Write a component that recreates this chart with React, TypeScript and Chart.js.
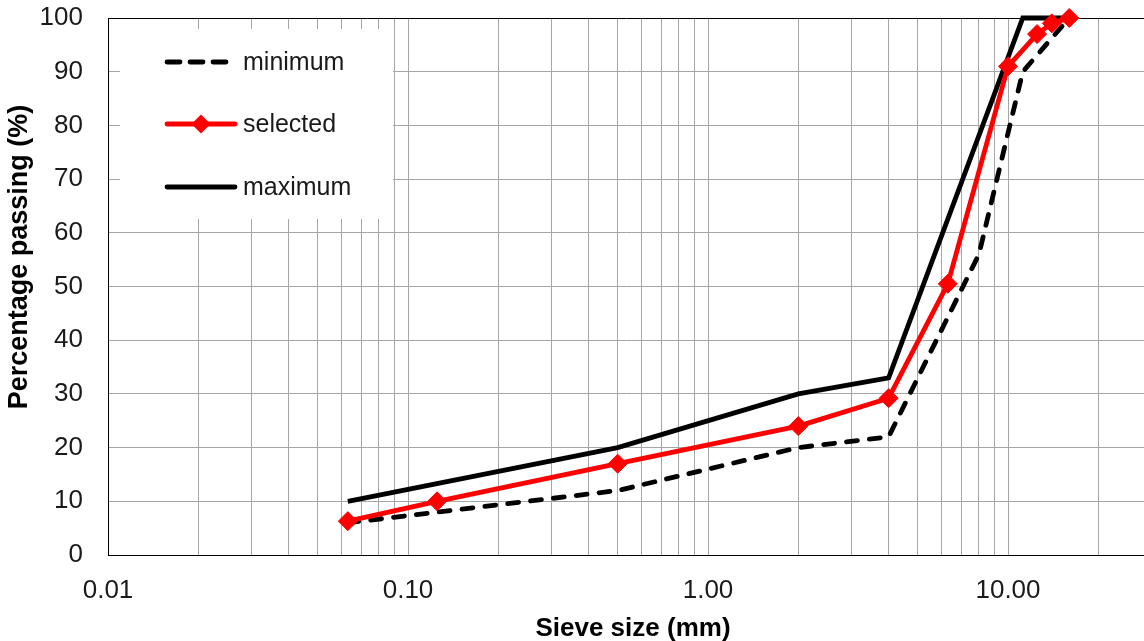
import React, { useEffect, useRef } from "react";
import { Chart, registerables } from "chart.js";

Chart.register(...registerables);

// ---- data ----
const SIEVE_MIN = [0.063, 0.5, 2, 4, 8, 11.2, 16];
const PASS_MIN = [6, 12, 20, 22, 56, 90, 100];

const SIEVE_SEL = [0.063, 0.125, 0.5, 2, 4, 6.3, 10, 12.5, 14, 16];
const PASS_SEL = [6.3, 10, 17, 24, 29.2, 50.5, 91, 97, 99, 100];

const SIEVE_MAX = [0.063, 0.5, 2, 4, 11.2, 16];
const PASS_MAX = [10, 20, 30, 33, 100, 100];

const X_GRID = [
  0.01, 0.02, 0.03, 0.04, 0.05, 0.06, 0.07, 0.08, 0.09,
  0.1, 0.2, 0.3, 0.4, 0.5, 0.6, 0.7, 0.8, 0.9,
  1, 2, 3, 4, 5, 6, 7, 8, 9,
  10, 20,
];
const X_LABEL_VALUES = [0.01, 0.1, 1, 10];
const X_LABEL_TEXT = ["0.01", "0.10", "1.00", "10.00"];
const Y_TICKS = [0, 10, 20, 30, 40, 50, 60, 70, 80, 90, 100];

const X_TITLE = "Sieve size (mm)";
const Y_TITLE = "Percentage passing (%)";

const X_MIN = 0.01;
const X_MAX = 28.4;

const FONT = '"Liberation Sans", Arial, sans-serif';

const legendPlugin = {
  id: "boxLegend",
  beforeDatasetsDraw(chart: any) {
    const ctx = chart.ctx as CanvasRenderingContext2D;
    ctx.save();
    ctx.fillStyle = "#ffffff";
    ctx.fillRect(120, 29, 273, 190);
    const rows = [62, 124, 187];
    chart.data.datasets.forEach((ds: any, i: number) => {
      const y = rows[i];
      ctx.strokeStyle = ds.borderColor;
      ctx.lineWidth = ds.borderWidth;
      ctx.lineCap = "round";
      if (ds.borderDash && ds.borderDash.length) {
        ctx.setLineDash([13, 10]);
        ctx.beginPath();
        ctx.moveTo(167, y);
        ctx.lineTo(227, y);
        ctx.stroke();
      } else {
        ctx.setLineDash([]);
        ctx.beginPath();
        ctx.moveTo(167, y);
        ctx.lineTo(235, y);
        ctx.stroke();
      }
      ctx.setLineDash([]);
      if (ds.pointRadius && ds.pointRadius > 0) {
        const r = ds.pointRadius;
        const cx = 201;
        ctx.fillStyle = ds.backgroundColor;
        ctx.beginPath();
        ctx.moveTo(cx - r, y);
        ctx.lineTo(cx, y - r);
        ctx.lineTo(cx + r, y);
        ctx.lineTo(cx, y + r);
        ctx.closePath();
        ctx.fill();
      }
      ctx.fillStyle = "#1a1a1a";
      ctx.font = `25px ${FONT}`;
      ctx.textAlign = "left";
      ctx.textBaseline = "middle";
      ctx.fillText(ds.label, 243, y + 1);
    });
    ctx.restore();
  },
  afterDraw(chart: any) {
    const ctx = chart.ctx as CanvasRenderingContext2D;
    ctx.save();
    ctx.fillStyle = "#000000";
    ctx.font = `bold 26px ${FONT}`;
    ctx.textAlign = "center";
    ctx.textBaseline = "alphabetic";
    ctx.fillText(X_TITLE, 633, 636);
    ctx.translate(27, 257);
    ctx.rotate(-Math.PI / 2);
    ctx.font = `bold 27px ${FONT}`;
    ctx.fillText(Y_TITLE, 0, 0);
    ctx.restore();
  },
};

export default function App() {
  const ref = useRef<HTMLCanvasElement>(null);

  useEffect(() => {
    const canvas = ref.current!;
    const chart = new Chart(canvas, {
      type: "line",
      data: {
        datasets: [
          {
            label: "minimum",
            data: SIEVE_MIN.map((x, i) => ({ x, y: PASS_MIN[i] })),
            borderColor: "#000000",
            backgroundColor: "#000000",
            borderWidth: 4.8,
            borderDash: [11, 12],
            borderCapStyle: "round",
            borderJoinStyle: "round",
            pointRadius: 0,
            tension: 0,
            clip: false,
            order: 1,
          },
          {
            label: "selected",
            data: SIEVE_SEL.map((x, i) => ({ x, y: PASS_SEL[i] })),
            borderColor: "#ff0000",
            backgroundColor: "#ff0000",
            borderWidth: 4.8,
            borderJoinStyle: "round",
            pointStyle: "rectRot",
            pointRadius: 9.5,
            pointBorderWidth: 1,
            pointBackgroundColor: "#ff0000",
            pointBorderColor: "#ff0000",
            tension: 0,
            clip: false,
            order: 0,
          },
          {
            label: "maximum",
            data: SIEVE_MAX.map((x, i) => ({ x, y: PASS_MAX[i] })),
            borderColor: "#000000",
            backgroundColor: "#000000",
            borderWidth: 4.8,
            borderJoinStyle: "miter",
            pointRadius: 0,
            tension: 0,
            clip: false,
            order: 2,
          },
        ],
      } as any,
      options: {
        responsive: false,
        animation: false,
        devicePixelRatio: 1,
        layout: { autoPadding: false, padding: { top: 18, right: 0, left: 0, bottom: 0 } },
        plugins: {
          legend: { display: false },
          tooltip: { enabled: false },
        },
        scales: {
          x: {
            type: "logarithmic",
            position: "bottom",
            min: X_MIN,
            max: X_MAX,
            afterBuildTicks: (s: any) => {
              s.ticks = X_GRID.map((v) => ({ value: v }));
            },
            afterFit: (s: any) => {
              s.height = 86;
              s.paddingLeft = 0;
              s.paddingRight = 0;
            },
            ticks: {
              autoSkip: false,
              maxRotation: 0,
              minRotation: 0,
              padding: 20,
              color: "#1a1a1a",
              font: { family: FONT, size: 26 },
              callback: (v: any) => {
                const i = X_LABEL_VALUES.findIndex(
                  (l) => Math.abs(l - Number(v)) < 1e-9
                );
                return i >= 0 ? X_LABEL_TEXT[i] : "";
              },
            },
            grid: { color: "#a6a6a6", lineWidth: 1, drawTicks: false },
            border: { display: true, color: "#000000", width: 1 },
            title: { display: false },
          },
          y: {
            type: "linear",
            min: 0,
            max: 100,
            afterBuildTicks: (s: any) => {
              s.ticks = Y_TICKS.map((v) => ({ value: v }));
            },
            afterFit: (s: any) => {
              s.width = 108;
              s.paddingTop = 0;
              s.paddingBottom = 0;
            },
            ticks: {
              padding: 25,
              color: "#1a1a1a",
              font: { family: FONT, size: 26 },
            },
            grid: {
              color: (c: any) =>
                c.tick && c.tick.value === 100 ? "#000000" : "#a6a6a6",
              lineWidth: 1,
              drawTicks: false,
            },
            border: { display: true, color: "#000000", width: 1 },
            title: { display: false },
          },
        },
      } as any,
      plugins: [legendPlugin],
    });
    return () => chart.destroy();
  }, []);

  return (
    <div style={{ position: "absolute", left: 0, top: 0, width: 1144, height: 641, background: "#fff" }}>
      <canvas ref={ref} width={1144} height={641} style={{ width: 1144, height: 641, display: "block" }} />
    </div>
  );
}
